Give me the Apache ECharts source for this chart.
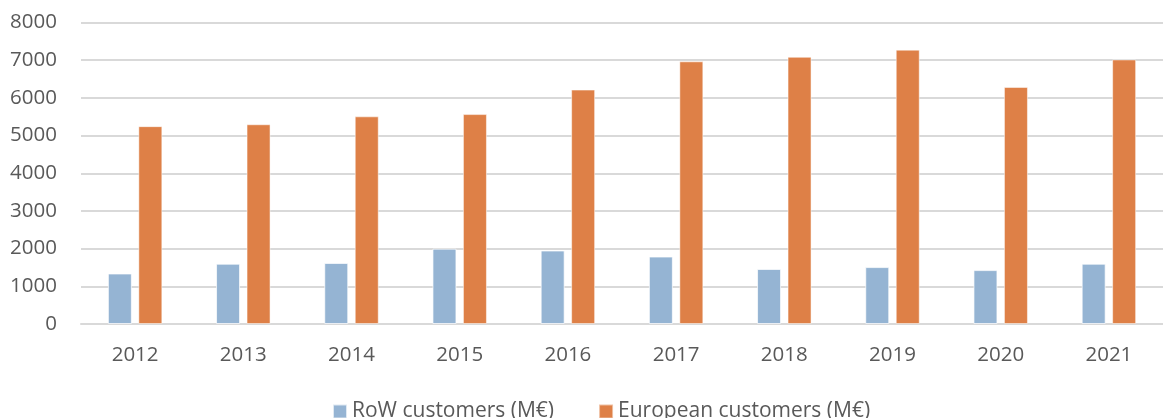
<!DOCTYPE html>
<html>
<head>
<meta charset="utf-8">
<script src="https://cdn.jsdelivr.net/npm/echarts@6/dist/echarts.min.js"></script>
<style>
html,body{margin:0;padding:0;background:#fff;}
#chart{width:1163px;height:418px;}
</style>
</head>
<body>
<div id="chart"></div>
<script>
const categories = ['2012','2013','2014','2015','2016','2017','2018','2019','2020','2021'];
const rowCustomers = [1340, 1600, 1620, 2000, 1950, 1790, 1460, 1510, 1430, 1600];
const europeanCustomers = [5250, 5300, 5510, 5570, 6220, 6970, 7090, 7280, 6290, 7020];
const seriesNames = ['RoW customers (M€)', 'European customers (M€)'];

const font = '"Open Sans", "Liberation Sans", sans-serif';
const textColor = '#595959';
const chart = echarts.init(document.getElementById('chart'));
chart.setOption({
  animation: false,
  backgroundColor: '#fff',
  textStyle: { fontFamily: font },
  grid: { left: 81, top: 22.5, width: 1091, height: 301.5, containLabel: false },
  legend: {
    top: 401,
    left: 332,
    padding: 0,
    itemWidth: 14,
    itemHeight: 14,
    itemGap: 44,
    itemTextGap: 6,
    icon: 'rect',
    textStyle: { fontFamily: font, fontSize: 21, color: textColor, lineHeight: 14 },
    data: seriesNames
  },
  xAxis: {
    type: 'category',
    data: categories,
    axisLine: { show: true, lineStyle: { color: '#D9D9D9', width: 2 } },
    axisTick: { show: false },
    axisLabel: { color: textColor, fontSize: 20.5, fontFamily: font, margin: 21 }
  },
  yAxis: {
    type: 'value',
    min: 0,
    max: 8000,
    interval: 1000,
    axisLine: { show: false },
    axisTick: { show: false },
    splitLine: { lineStyle: { color: '#D9D9D9', width: 2 } },
    axisLabel: { color: textColor, fontSize: 20.5, fontFamily: font, margin: 24, formatter: function (v) { return String(v); } }
  },
  series: [
    {
      name: seriesNames[0],
      type: 'bar',
      data: rowCustomers,
      barWidth: 24,
      barGap: '27%',
      itemStyle: { color: '#95B4D3', borderColor: 'rgba(255,255,255,0.7)', borderWidth: 1 }
    },
    {
      name: seriesNames[1],
      type: 'bar',
      data: europeanCustomers,
      barWidth: 24,
      barGap: '27%',
      itemStyle: { color: '#DE8047', borderColor: 'rgba(255,255,255,0.5)', borderWidth: 1 }
    }
  ]
});
</script>
</body>
</html>
